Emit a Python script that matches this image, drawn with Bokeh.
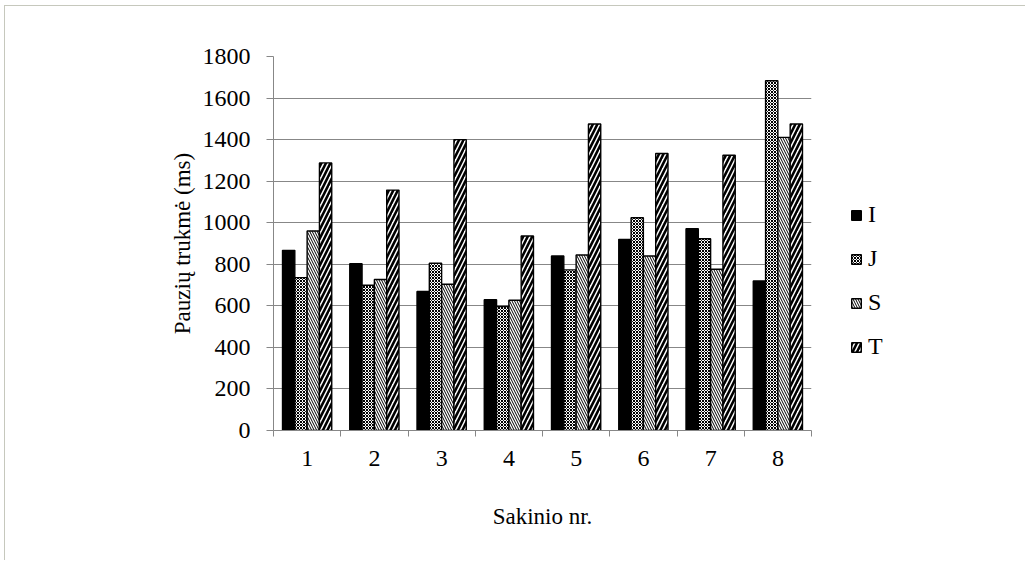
from bokeh.plotting import figure
from bokeh.models import ColumnDataSource, FixedTicker, Legend, LegendItem, Range1d
from bokeh.embed import file_html
from bokeh.resources import INLINE
from bokeh.transform import dodge

# ---- data ----
sentences = ["1", "2", "3", "4", "5", "6", "7", "8"]
series_names = ["I", "J", "S", "T"]
vals_I = [867, 803, 669, 629, 840, 920, 971, 720]
vals_J = [736, 699, 805, 597, 773, 1024, 923, 1683]
vals_S = [960, 727, 704, 627, 845, 840, 776, 1411]
vals_T = [1288, 1157, 1400, 936, 1475, 1333, 1325, 1475]
y_ticks = [0, 200, 400, 600, 800, 1000, 1200, 1400, 1600, 1800]
x_title = "Sakinio nr."
y_title = "Pauzių trukmė (ms)"

x_pos = list(range(1, len(sentences) + 1))
source = ColumnDataSource(dict(x=x_pos, I=vals_I, J=vals_J, S=vals_S, T=vals_T))

FONT = "'Liberation Serif', 'Times New Roman', serif"
GRAY = "#878787"

p = figure(frame_width=538, frame_height=374, output_backend="svg", toolbar_location=None,
           x_range=Range1d(0.5, len(sentences) + 0.5), y_range=Range1d(0, 1800),
           min_border_left=268, min_border_top=50, min_border_right=205,
           min_border_bottom=130)
p.styles = {"border-top": "1px solid #c6c8bd", "border-left": "1px solid #c6c8bd",
            "margin-left": "4px", "margin-top": "5px"}
p.outline_line_color = None
p.xgrid.visible = False
p.ygrid.ticker = FixedTicker(ticks=y_ticks)
p.ygrid.grid_line_color = GRAY
p.ygrid.grid_line_width = 1

w = 0.183
styles = {
    "I": dict(fill_color="black"),
    "J": dict(fill_color="white", hatch_pattern="diagonal_cross", hatch_color="black",
              hatch_scale=3, hatch_weight=1),
    "S": dict(fill_color="white", hatch_pattern="left_diagonal_line", hatch_color="black",
              hatch_scale=5, hatch_weight=1),
    "T": dict(fill_color="white", hatch_pattern="right_diagonal_line", hatch_color="black",
              hatch_scale=9, hatch_weight=2.6),
}
renderers = []
for k, name in enumerate(series_names):
    off = (k - 1.5) * w
    r = p.vbar(x=dodge("x", off, range=p.x_range), top=name, width=w, source=source,
               line_color="black", line_width=1.4, **styles[name])
    renderers.append(r)

# x axis
xa = p.xaxis[0]
xa.ticker = FixedTicker(ticks=x_pos, minor_ticks=[i + 0.5 for i in range(len(sentences) + 1)])
xa.major_label_overrides = {i: s for i, s in zip(x_pos, sentences)}
xa.major_tick_out = 0
xa.major_tick_in = 0
xa.minor_tick_out = 6
xa.minor_tick_in = 0
xa.minor_tick_line_color = GRAY
xa.axis_line_color = GRAY
xa.major_label_standoff = 14
xa.axis_label = x_title
xa.axis_label_standoff = 35

# y axis
ya = p.yaxis[0]
ya.ticker = FixedTicker(ticks=y_ticks)
ya.major_tick_out = 7
ya.major_tick_in = 0
ya.major_tick_line_color = GRAY
ya.minor_tick_line_color = None
ya.axis_line_color = GRAY
ya.major_label_standoff = 16
ya.axis_label = y_title
ya.axis_label_standoff = 5

for ax in (xa, ya):
    ax.major_label_text_font = FONT
    ax.major_label_text_font_size = "24px"
    ax.major_label_text_color = "black"
    ax.axis_label_text_font = FONT
    ax.axis_label_text_font_size = "23px"
    ax.axis_label_text_font_style = "normal"
    ax.axis_label_text_color = "black"

legend = Legend(items=[LegendItem(label=n, renderers=[r]) for n, r in zip(series_names, renderers)],
                location=(39, 70), orientation="vertical", border_line_color=None,
                background_fill_alpha=0, label_text_font=FONT, label_text_font_size="24px",
                label_text_color="black",
                glyph_width=12, glyph_height=12, label_standoff=6, spacing=17,
                padding=0, margin=0, label_height=27)
p.add_layout(legend, "right")

open("out.html", "w").write(file_html(p, INLINE))
